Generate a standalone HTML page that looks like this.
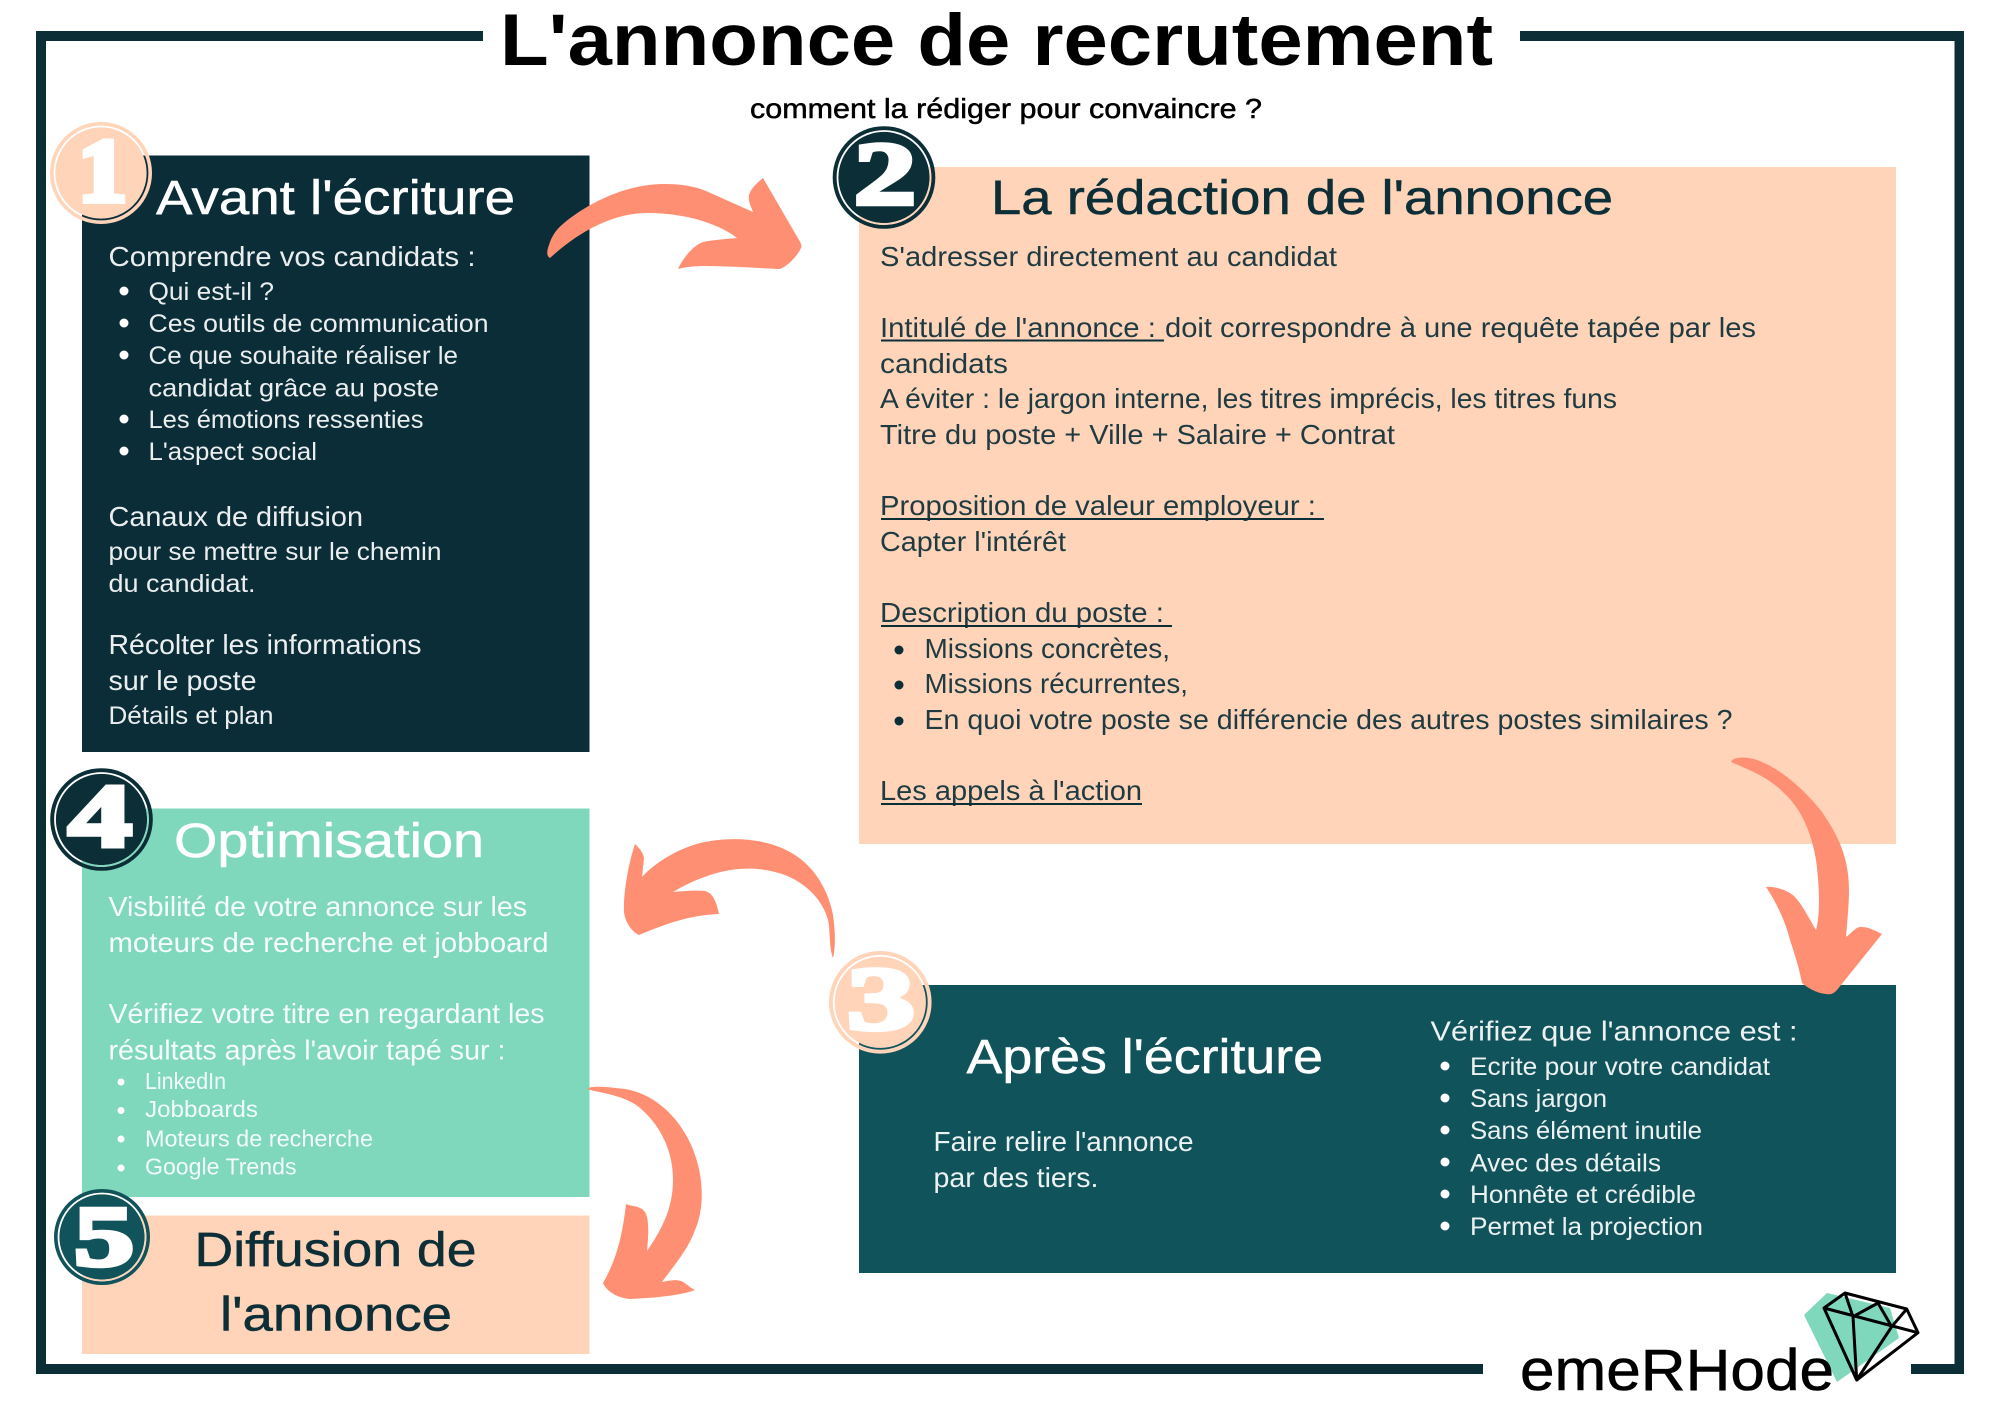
<!DOCTYPE html>
<html lang="fr"><head><meta charset="utf-8"><title>L'annonce de recrutement</title>
<style>
html,body{margin:0;padding:0;background:#fff;width:2000px;height:1414px;overflow:hidden}
svg{display:block}
text{font-family:"Liberation Sans",sans-serif;white-space:pre}
.b{font-size:28px;fill-opacity:.92}.s{font-size:25px;fill-opacity:.92}.x{font-size:23px;fill-opacity:.9}
.h{font-size:48px;stroke-width:.5}
.w{fill:#fff}.d{fill:#0c2e37}.k{fill:#000}
.w .h{stroke:#fff}.d .h{stroke:#0c2e37}
.n{font-family:"Liberation Serif",serif;font-weight:bold;font-size:90px;fill:#fff;stroke:#fff;stroke-width:4.5}
</style></head><body>
<svg xmlns="http://www.w3.org/2000/svg" width="2000" height="1414" viewBox="0 0 2000 1414">
<defs>
<clipPath id="c1"><rect x="82" y="155.5" width="507" height="596.5"/></clipPath>
<clipPath id="c2"><rect x="859" y="167" width="1037" height="677"/></clipPath>
<clipPath id="c3"><rect x="859" y="985" width="1037" height="288"/></clipPath>
<clipPath id="c4"><rect x="82" y="808.5" width="507" height="388.5"/></clipPath>
<clipPath id="c5"><rect x="82" y="1215.5" width="507" height="138.5"/></clipPath>
</defs>
<rect width="2000" height="1414" fill="#fff"/>
<!-- frame -->
<g fill="#0c2e37">
<rect x="36" y="31" width="447" height="10"/>
<rect x="1520" y="31" width="444" height="10"/>
<rect x="36" y="31" width="10" height="1343"/>
<rect x="1954.5" y="31" width="9.5" height="1343"/>
<rect x="36" y="1364" width="1447" height="10"/>
<rect x="1911" y="1364" width="53" height="10"/>
</g>
<!-- title -->
<text x="500" y="65" font-size="73" font-weight="bold" class="k" textLength="993" lengthAdjust="spacingAndGlyphs">L'annonce de recrutement</text>
<text x="750" y="118" font-size="28" class="k" stroke="#000" stroke-width=".5" textLength="512" lengthAdjust="spacingAndGlyphs">comment la rédiger pour convaincre ?</text>
<!-- boxes -->
<rect x="82" y="155.5" width="507.5" height="596.5" fill="#0b2d37"/>
<rect x="859" y="167" width="1037" height="677" fill="#ffd4b9"/>
<rect x="859" y="985" width="1037" height="288" fill="#11535a"/>
<rect x="82" y="808.5" width="507.5" height="388.5" fill="#7fd8bc"/>
<rect x="82" y="1215.5" width="507.5" height="138.5" fill="#ffd4b9"/>
<!-- box 1 -->
<g class="w">
<text x="156" y="214" class="h" textLength="359" lengthAdjust="spacingAndGlyphs">Avant l'écriture</text>
<text x="108.5" y="266" class="b" textLength="367" lengthAdjust="spacingAndGlyphs">Comprendre vos candidats :</text>
<text x="148.5" y="300" class="s" textLength="125.5" lengthAdjust="spacingAndGlyphs">Qui est-il ?</text>
<text x="148.5" y="332" class="s" textLength="340" lengthAdjust="spacingAndGlyphs">Ces outils de communication</text>
<text x="148.5" y="364" class="s" textLength="309.5" lengthAdjust="spacingAndGlyphs">Ce que souhaite réaliser le</text>
<text x="148.5" y="396.5" class="s" textLength="290.5" lengthAdjust="spacingAndGlyphs">candidat grâce au poste</text>
<text x="148.5" y="428" class="s" textLength="275" lengthAdjust="spacingAndGlyphs">Les émotions ressenties</text>
<text x="148.5" y="460" class="s" textLength="168.5" lengthAdjust="spacingAndGlyphs">L'aspect social</text>
<text x="108.5" y="526" class="b" textLength="254.5" lengthAdjust="spacingAndGlyphs">Canaux de diffusion</text>
<text x="108.5" y="560" class="s" textLength="333" lengthAdjust="spacingAndGlyphs">pour se mettre sur le chemin</text>
<text x="108.5" y="592" class="s" textLength="147" lengthAdjust="spacingAndGlyphs">du candidat.</text>
<text x="108.5" y="654" class="b" textLength="313" lengthAdjust="spacingAndGlyphs">Récolter les informations</text>
<text x="108.5" y="690" class="b" textLength="148" lengthAdjust="spacingAndGlyphs">sur le poste</text>
<text x="108.5" y="724" class="s" textLength="165" lengthAdjust="spacingAndGlyphs">Détails et plan</text>
<circle cx="124" cy="291" r="4.5"/><circle cx="124" cy="323" r="4.5"/><circle cx="124" cy="355" r="4.5"/><circle cx="124" cy="419" r="4.5"/><circle cx="124" cy="451" r="4.5"/>
</g>
<!-- box 2 -->
<g class="d">
<text x="991" y="214" class="h" textLength="622" lengthAdjust="spacingAndGlyphs">La rédaction de l'annonce</text>
<text x="880" y="266" class="b" textLength="457" lengthAdjust="spacingAndGlyphs">S'adresser directement au candidat</text>
<text x="880" y="337" class="b" textLength="284" lengthAdjust="spacingAndGlyphs">Intitulé de l'annonce : </text>
<text x="1165" y="337" class="b" textLength="591" lengthAdjust="spacingAndGlyphs">doit correspondre à une requête tapée par les</text>
<rect x="881" y="339.5" width="283" height="2"/>
<text x="880" y="373" class="b" textLength="128" lengthAdjust="spacingAndGlyphs">candidats</text>
<text x="880" y="408" class="b" textLength="737" lengthAdjust="spacingAndGlyphs">A éviter : le jargon interne, les titres imprécis, les titres funs</text>
<text x="880" y="444" class="b" textLength="515" lengthAdjust="spacingAndGlyphs">Titre du poste + Ville + Salaire + Contrat</text>
<text x="880" y="515" class="b" textLength="444" lengthAdjust="spacingAndGlyphs">Proposition de valeur employeur : </text>
<rect x="881" y="518" width="443" height="2"/>
<text x="880" y="551" class="b" textLength="186" lengthAdjust="spacingAndGlyphs">Capter l'intérêt</text>
<text x="880" y="622" class="b" textLength="292" lengthAdjust="spacingAndGlyphs">Description du poste : </text>
<rect x="881" y="625" width="291" height="2"/>
<text x="924.5" y="658" class="b" textLength="245.5" lengthAdjust="spacingAndGlyphs">Missions concrètes,</text>
<text x="924.5" y="693" class="b" textLength="263.5" lengthAdjust="spacingAndGlyphs">Missions récurrentes,</text>
<text x="924.5" y="729" class="b" textLength="808" lengthAdjust="spacingAndGlyphs">En quoi votre poste se différencie des autres postes similaires ?</text>
<circle cx="899" cy="650" r="4.5"/><circle cx="899" cy="685" r="4.5"/><circle cx="899" cy="721" r="4.5"/>
<text x="880" y="800" class="b" textLength="262" lengthAdjust="spacingAndGlyphs">Les appels à l'action</text>
<rect x="881" y="803" width="261" height="2"/>
</g>
<!-- box 3 -->
<g class="w">
<text x="966.5" y="1073" class="h" textLength="356.5" lengthAdjust="spacingAndGlyphs">Après l'écriture</text>
<text x="933.5" y="1151" class="b" textLength="260" lengthAdjust="spacingAndGlyphs">Faire relire l'annonce</text>
<text x="933.5" y="1187" class="b" textLength="165" lengthAdjust="spacingAndGlyphs">par des tiers.</text>
<text x="1430.5" y="1040.5" class="b" textLength="367" lengthAdjust="spacingAndGlyphs">Vérifiez que l'annonce est :</text>
<text x="1470" y="1075" class="s" textLength="300" lengthAdjust="spacingAndGlyphs">Ecrite pour votre candidat</text>
<text x="1470" y="1107" class="s" textLength="137" lengthAdjust="spacingAndGlyphs">Sans jargon</text>
<text x="1470" y="1139" class="s" textLength="232" lengthAdjust="spacingAndGlyphs">Sans élément inutile</text>
<text x="1470" y="1171.5" class="s" textLength="191" lengthAdjust="spacingAndGlyphs">Avec des détails</text>
<text x="1470" y="1203" class="s" textLength="226" lengthAdjust="spacingAndGlyphs">Honnête et crédible</text>
<text x="1470" y="1235" class="s" textLength="233" lengthAdjust="spacingAndGlyphs">Permet la projection</text>
<circle cx="1445" cy="1066" r="4.5"/><circle cx="1445" cy="1098" r="4.5"/><circle cx="1445" cy="1130" r="4.5"/><circle cx="1445" cy="1162" r="4.5"/><circle cx="1445" cy="1194" r="4.5"/><circle cx="1445" cy="1226" r="4.5"/>
</g>
<!-- box 4 -->
<g class="w">
<text x="174" y="857" class="h" textLength="310" lengthAdjust="spacingAndGlyphs">Optimisation</text>
<text x="108.5" y="916" class="b" textLength="418.5" lengthAdjust="spacingAndGlyphs">Visbilité de votre annonce sur les</text>
<text x="108.5" y="952" class="b" textLength="440" lengthAdjust="spacingAndGlyphs">moteurs de recherche et jobboard</text>
<text x="108.5" y="1023" class="b" textLength="436" lengthAdjust="spacingAndGlyphs">Vérifiez votre titre en regardant les</text>
<text x="108.5" y="1059.5" class="b" textLength="397" lengthAdjust="spacingAndGlyphs">résultats après l'avoir tapé sur :</text>
<text x="145" y="1089" class="x" textLength="81" lengthAdjust="spacingAndGlyphs">LinkedIn</text>
<text x="145" y="1117" class="x" textLength="113" lengthAdjust="spacingAndGlyphs">Jobboards</text>
<text x="145" y="1146.5" class="x" textLength="228" lengthAdjust="spacingAndGlyphs">Moteurs de recherche</text>
<text x="145" y="1174.5" class="x" textLength="151.5" lengthAdjust="spacingAndGlyphs">Google Trends</text>
<circle cx="121" cy="1082" r="3.5"/><circle cx="121" cy="1110.5" r="3.5"/><circle cx="121" cy="1139" r="3.5"/><circle cx="121" cy="1168" r="3.5"/>
</g>
<!-- box 5 -->
<g class="d">
<text x="194.5" y="1266" class="h" textLength="282" lengthAdjust="spacingAndGlyphs">Diffusion de</text>
<text x="220" y="1330.5" class="h" textLength="232" lengthAdjust="spacingAndGlyphs">l'annonce</text>
</g>
<!-- arrows -->
<g fill="#ff8f72">
<path d="M550 258 C546 256 547 250 549 245 C553 232 560 226 569 219 C590 203 625 184 665 184 C680 184 694 186 706 191 L753 212 C751 206 748 202 749 195 C751 188 757 183 763 178 L799 240 C801 243 802 246 801 248 C799 253 790 265 780 269 C755 268 730 266 705 266 C695 266 685 267 678 269 C682 260 692 246 703 242 C712 240 727 239 737 238 C722 226 690 213 647 213 C610 213 575 235 550 258 Z"/>
<path d="M1731 762 C1733 757 1745 756 1757 760 C1780 768 1805 790 1822 812 C1840 838 1849 860 1849 890 C1849 905 1847 925 1846 937 C1851 934 1856 926 1862 927 C1868 927 1876 931 1882 934 L1837 990 C1834 993 1832 995 1826 994 C1816 993 1808 988 1802 983 C1799 968 1795 955 1790 940 C1785 920 1775 900 1766 887 C1775 886 1787 890 1794 896 C1802 904 1810 920 1816 930 C1820 915 1820 890 1816 860 C1811 830 1800 808 1785 794 C1770 778 1750 770 1731 762 Z"/>
<path d="M833 958 C830 950 830 940 829 925 C826 905 810 885 785 875 C760 866 735 867 710 875 C695 880 683 886 673 892 C684 891 695 890 705 891 C714 893 717 905 719 914 C690 915 665 924 639 935 C632 932 625 922 624 912 C623 895 628 865 635 844 C639 848 643 852 644 858 L642 877 C655 863 675 850 700 843 C730 836 765 838 790 852 C815 866 828 890 833 915 C835 930 836 945 833 958 Z"/>
<path d="M587 1089 C590 1085 610 1087 625 1089 C660 1095 685 1125 695 1155 C704 1180 704 1210 695 1230 C688 1250 672 1268 662 1282 C668 1281 675 1279 681 1281 C686 1283 690 1288 695 1290 C680 1296 650 1298 630 1299 C618 1298 607 1292 603 1283 C615 1262 622 1240 626 1204 C632 1207 640 1205 645 1212 C650 1220 648 1240 647 1251 C660 1232 673 1210 673 1180 C673 1150 660 1125 640 1108 C625 1095 600 1093 587 1089 Z"/>
</g>
<!-- circles -->
<circle cx="101" cy="173" r="51" fill="#ffd4b9"/>
<circle cx="101" cy="173" r="46.5" fill="none" stroke="#fff" stroke-width="1.8"/>
<circle cx="101" cy="173" r="46.5" fill="none" stroke="#0b2d37" stroke-width="1.8" clip-path="url(#c1)"/>
<text x="78" y="201" class="n" textLength="49" lengthAdjust="spacingAndGlyphs" style="stroke-width:6">1</text>

<circle cx="884" cy="177.5" r="51.3" fill="#0c2e37"/>
<circle cx="884" cy="177.5" r="46.5" fill="none" stroke="#fff" stroke-width="1.8"/>
<circle cx="884" cy="177.5" r="46.5" fill="none" stroke="#ffd4b9" stroke-width="1.8" clip-path="url(#c2)"/>
<text x="854" y="204" class="n" textLength="62" lengthAdjust="spacingAndGlyphs">2</text>

<circle cx="880.3" cy="1002.3" r="51.3" fill="#ffd4b9"/>
<circle cx="880.3" cy="1002.3" r="46.5" fill="none" stroke="#fff" stroke-width="1.8"/>
<circle cx="880.3" cy="1002.3" r="46.5" fill="none" stroke="#11535a" stroke-width="1.8" clip-path="url(#c3)"/>
<text x="847" y="1029" class="n" textLength="68" lengthAdjust="spacingAndGlyphs">3</text>

<circle cx="101.5" cy="819.5" r="51.3" fill="#0c2e37"/>
<circle cx="101.5" cy="819.5" r="46.5" fill="none" stroke="#fff" stroke-width="1.8"/>
<circle cx="101.5" cy="819.5" r="46.5" fill="none" stroke="#7fd8bc" stroke-width="1.8" clip-path="url(#c4)"/>
<text x="68" y="846" class="n" textLength="64" lengthAdjust="spacingAndGlyphs">4</text>

<circle cx="102" cy="1237" r="48" fill="#11535a"/>
<circle cx="102" cy="1237" r="43.5" fill="none" stroke="#fff" stroke-width="1.8"/>
<circle cx="102" cy="1237" r="43.5" fill="none" stroke="#ffd4b9" stroke-width="1.8" clip-path="url(#c5)"/>
<text x="74" y="1265" class="n" style="font-size:86px" textLength="60" lengthAdjust="spacingAndGlyphs">5</text>

<!-- logo -->
<polygon points="1827,1293 1804,1315 1837,1382 1899,1338 1890,1308" fill="#7fd8bc"/>
<text x="1520" y="1390" font-size="58" class="k" stroke="#000" stroke-width=".6" textLength="314" lengthAdjust="spacingAndGlyphs">emeRHode</text>
<g fill="none" stroke="#000" stroke-width="3" stroke-linejoin="round">
<polygon points="1845,1293 1906.7,1309 1918,1332.7 1856.7,1380 1824,1308"/>
<path d="M1824 1308 L1918 1332.7 M1845 1293 L1853 1316.7 L1856.7 1380 M1853 1316.7 L1878 1303 L1891.7 1326.7 L1856.7 1380 M1906.7 1309 L1891.7 1326.7"/>
</g>
</svg>
</body></html>
